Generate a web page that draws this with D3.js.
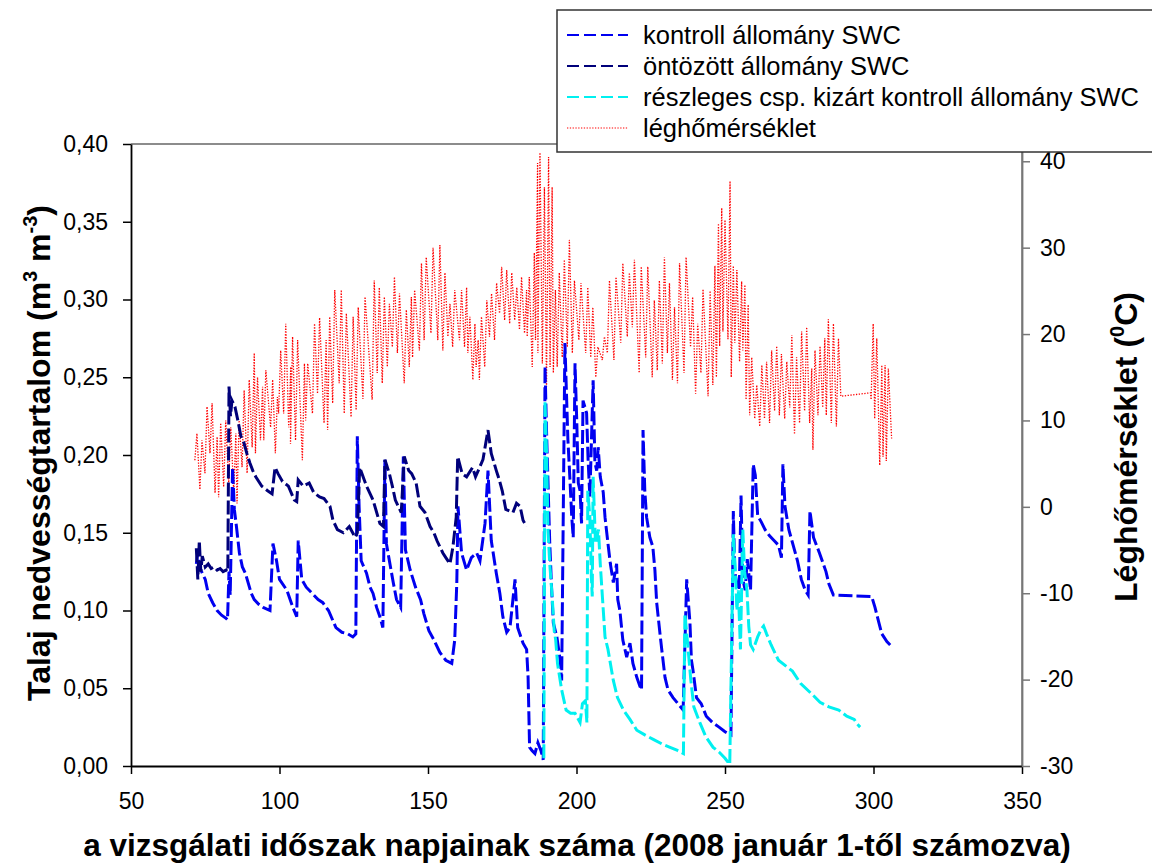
<!DOCTYPE html>
<html><head><meta charset="utf-8">
<script src="https://cdn.jsdelivr.net/npm/d3@7"></script>
<style>body{margin:0;background:#fff}svg{display:block}text{font-family:Arial,"Liberation Sans",sans-serif}</style>
</head><body><svg id="c" width="1152" height="863"></svg>
<script>
// ---- data ----
const xTicks=[50,100,150,200,250,300,350];
const swcTicks=[0,0.05,0.10,0.15,0.20,0.25,0.30,0.35,0.40];
const tempTicks=[-30,-20,-10,0,10,20,30,40];
const seriesNames=["kontroll állomány SWC","öntözött állomány SWC","részleges csp. kizárt kontroll állomány SWC","léghőmérséklet"];

const kontrollDays=[72,72.5,73,74,75,76,77.5,79,80.5,82,82.5,83,83.4,83.6,84.2,84.8,85.5,86.5,87.5,88.5,90.5,91.5,93,94.5,96.8,97.8,99,100,102.5,104.5,105.8,106.3,107.5,109,111,113,114.6,116.5,119,121,123,124.7,125.7,126.2,126.8,127.5,129.3,130.5,131.5,132.7,133.8,134.8,135.5,136,137,138.3,139.4,140.8,141.7,142.4,144,145.8,147.5,148.6,150.3,152,154,156,158,159,159.7,160.1,161.3,163,164.6,166.4,167.5,169.2,170.2,171.3,173,174.2,175.2,176.5,177.6,179.3,180.2,182,183.2,183.7,184.2,185,186,187,188,188.8,189.4,189.9,191,191.6,192.2,193.4,194.5,195,196.1,197.1,197.8,198.4,198.9,199.5,200.1,200.6,201.2,201.7,202.2,203.4,203.9,204.5,205.6,206.2,206.8,207.3,208,209,209.6,210.6,211.4,212.4,213.5,213.9,214.6,215.6,216.9,218,219,220.3,221.4,221.9,222.4,223,223.6,224.7,225.7,226.4,227,228,228.7,229.8,230.8,232.5,234.2,235.9,237.1,238.2,238.7,239.2,240.4,242,243.7,245.8,248,250,252,252.8,253.3,254,254.8,255.4,256,256.8,257.5,258.6,259.5,260.2,261,262.2,263.5,265,266.5,268,269,269.5,270.2,271.5,274.4,275.7,277,278,278.6,279.8,281.8,284,285,286.5,299.4,300.5,301.7,302.8,304.5,306];
const kontrollSWC=[0.130,0.137,0.128,0.124,0.120,0.111,0.105,0.100,0.097,0.095,0.094,0.125,0.110,0.130,0.192,0.165,0.154,0.137,0.128,0.124,0.111,0.107,0.104,0.102,0.100,0.143,0.132,0.120,0.113,0.102,0.096,0.145,0.120,0.115,0.111,0.107,0.105,0.100,0.089,0.086,0.085,0.083,0.085,0.212,0.167,0.132,0.124,0.115,0.111,0.102,0.096,0.089,0.197,0.143,0.132,0.118,0.107,0.102,0.199,0.139,0.126,0.115,0.107,0.098,0.087,0.081,0.073,0.068,0.066,0.081,0.118,0.167,0.137,0.126,0.134,0.137,0.132,0.156,0.190,0.145,0.124,0.111,0.096,0.086,0.089,0.120,0.089,0.079,0.075,0.057,0.012,0.010,0.008,0.015,0.010,0.004,0.257,0.216,0.143,0.115,0.092,0.083,0.068,0.055,0.272,0.210,0.184,0.160,0.147,0.259,0.221,0.182,0.177,0.156,0.235,0.227,0.197,0.173,0.248,0.195,0.190,0.205,0.186,0.176,0.160,0.143,0.130,0.118,0.130,0.107,0.100,0.081,0.070,0.079,0.066,0.057,0.051,0.049,0.216,0.177,0.160,0.147,0.141,0.126,0.105,0.087,0.075,0.057,0.049,0.044,0.040,0.036,0.120,0.092,0.068,0.062,0.044,0.040,0.032,0.028,0.025,0.022,0.020,0.164,0.125,0.117,0.113,0.174,0.120,0.113,0.133,0.113,0.194,0.187,0.161,0.157,0.152,0.148,0.145,0.142,0.134,0.194,0.167,0.152,0.132,0.120,0.113,0.110,0.164,0.147,0.137,0.125,0.117,0.110,0.109,0.102,0.093,0.085,0.080,0.077];

const ontozottDays=[72,72.5,73,73.5,74,75,76,77,78,79,80,81,82,82.6,83,83.5,84,85,86,87,88,89,90,91,92,94,96,97.5,98.5,99.5,101,103,105,105.8,106.3,108,110,111.5,113.5,115,117,118,119.5,121.5,123.5,125.5,126.2,127,129.3,131.5,133.8,135,135.5,137,138,139,140,141,142,143.5,144.5,146,147.3,149,150.7,152,153,154,155,156,157.4,158.4,159.5,160,161.5,163,165,166,168.5,170.2,171.3,173,174,175,176.2,178.6,179.8,181,182,183.2];
const ontozottSWC=[0.140,0.120,0.145,0.125,0.135,0.128,0.130,0.127,0.128,0.126,0.127,0.125,0.126,0.125,0.244,0.225,0.235,0.231,0.222,0.212,0.208,0.201,0.195,0.190,0.186,0.180,0.177,0.175,0.192,0.188,0.183,0.180,0.171,0.170,0.184,0.180,0.182,0.176,0.173,0.172,0.167,0.158,0.152,0.150,0.154,0.147,0.150,0.192,0.180,0.171,0.156,0.154,0.197,0.188,0.180,0.171,0.167,0.163,0.199,0.190,0.188,0.182,0.167,0.163,0.154,0.150,0.145,0.141,0.137,0.134,0.130,0.141,0.160,0.199,0.188,0.186,0.192,0.186,0.197,0.216,0.201,0.190,0.184,0.177,0.165,0.163,0.169,0.167,0.158,0.154];

const reszlegesDays=[189,189.4,189.9,190.4,191,191.8,192.5,193,193.6,195,196.5,198,199.5,201.2,202,203,203.5,203.8,204.5,205,205.3,205.6,206.4,207.4,208,209.6,210.6,212.4,213.8,215.8,218,220.3,223,226,229,231.5,234,236,236.5,237.5,238.5,239.5,241.5,243.5,246,248,250,251.6,252.8,253.5,254,254.5,255.2,256,256.6,257.4,258,258.6,259.5,261,262.2,263,264,265.5,268,272.7,275.5,279.4,282,285,288.3,291,293.5,294.5,295.5];
const reszlegesSWC=[0.005,0.235,0.203,0.152,0.130,0.109,0.087,0.081,0.066,0.049,0.036,0.034,0.034,0.028,0.040,0.042,0.028,0.177,0.160,0.122,0.109,0.186,0.143,0.152,0.130,0.083,0.075,0.055,0.044,0.036,0.030,0.023,0.020,0.017,0.014,0.012,0.010,0.008,0.098,0.077,0.055,0.038,0.028,0.019,0.012,0.009,0.005,0.001,0.149,0.125,0.100,0.113,0.075,0.152,0.125,0.113,0.090,0.078,0.075,0.083,0.088,0.090,0.085,0.078,0.068,0.061,0.053,0.046,0.041,0.038,0.036,0.032,0.030,0.027,0.025];

// air temperature: daily readings (day, daily max, daily min)
const tempDays=[72.2,73.9,75.6,77.3,79,80.2,81.9,83.6,85.3,86.4,88.1,89.8,91.5,92.6,94.3,95.4,97.7,99.3,100.4,102.1,103.8,104.4,106.1,108.4,109.5,111.8,113.5,115.7,116.9,118.6,120.8,122.5,124.8,126.5,128.8,131.9,133.6,135.3,137,138.7,140.4,142.7,144.4,145.5,147.8,149.4,151.7,154,155.7,157.4,159,161.3,163,164.1,165.8,166.9,168,169.8,171.4,173.1,174.8,176.5,178.2,179.9,181.5,183.2,184.1,185.8,186.9,187.7,189.2,190.6,191.8,192.9,194.2,195.9,197.6,199.3,201.5,203.8,205.5,207.2,209.4,211.1,213.3,215.6,217.8,219.5,221.8,224,226.2,227.9,229.6,231.3,233,234.7,236.9,239.1,240.8,242.6,245,246.6,247.8,248.9,250,251.7,252.8,254,255.6,256.7,257.8,259,260.7,262.4,264,265.7,267.4,269,270.8,272.5,274.1,275.8,277.5,279.2,280.3,282,283.6,284.8,286.5,288.2,289,294,299,299.9,301.1,302.8,303.9,305,306.1];
const tempMax=[8.5,7.7,11.6,12,8.1,9.7,10,9.2,8.5,10,13.5,14.7,17.8,15,13.9,15.8,14.7,12.7,18.1,21.2,16.2,19.7,19.3,16.6,16.6,21.2,21.9,19.3,22,25.1,25.1,22.4,22,23.1,24.3,26.2,25.4,24.3,23.5,26.6,24.7,22.8,24.3,25.1,28.2,28.9,30,30.3,27.1,23.5,25.1,25.1,25.4,22,21.2,19.3,22,23.9,24.7,25.9,27.8,27.4,27.1,25.4,26.6,25.1,26.6,29.4,39.8,41,37,40.5,37,25.1,27.1,28.6,30.9,26.2,25.9,25.4,23.1,18.5,19.7,26.2,26.6,28.2,27.1,28.6,27.8,27.8,23.9,26.2,28.9,25.9,23.1,28.2,28.9,24.3,21.2,25.2,25,27.9,32.8,34.6,33.2,37.7,27.9,27.4,26.1,25.7,23.4,17.3,14.1,16.4,16.8,18.1,18.6,17.7,16.8,19.9,17.3,20.3,20.8,16,18.1,18.6,19.5,21.7,21.2,19.5,12.8,13,13.2,21.2,19.5,16.4,16.4,16,7.9];
const tempMin=[5.4,2,3.9,6.2,1.6,1.1,2.3,2.8,1.6,0.4,4.6,3.9,6.9,6.2,7.7,7.7,9.2,6.2,10.8,10.8,9.2,7.3,7.7,5.4,10,10.8,13.1,9.7,8.9,12,14.3,10.8,10.4,11.2,12.5,12.4,15.5,14.3,16.2,18.5,17.8,14.3,16.2,17.3,18.1,19.3,20.1,19.3,18.1,19.7,18.5,19.3,18.5,17.8,14.7,16.2,14.7,16.2,19.7,19.3,22.4,21.6,21.2,21.6,20.5,20.1,19.7,16.2,19.3,17.8,16.6,13.9,16.2,15.5,16.2,17.3,18.5,17.8,19.3,17.8,17.3,15,17,17.8,17,19,19.7,20.8,15.5,17.3,15,15.8,16.6,17.8,14.7,14.3,15.5,18.5,13.1,15.5,12.8,14.1,15,18.6,20.3,19.4,15,19,16.8,18.1,12.4,10.6,10.2,9.3,10.2,9.7,11.1,10.6,10.2,11.5,8.4,9.7,11.1,9.7,6.6,10.6,11.5,10.6,9.7,9.3,12.8,13,13.2,12.4,10.2,4.8,5.8,5.3,7.9];

// ---- chart ----
const svg=d3.select("#c");
svg.append("rect").attr("width",1152).attr("height",863).attr("fill","#fff");
const x=d3.scaleLinear().domain([50,350]).range([131,1022]);
const yL=d3.scaleLinear().domain([0,0.40]).range([766,144]);
const yR=d3.scaleLinear().domain([-30,42]).range([766,144]);
const loc=d3.formatLocale({decimal:",",thousands:" ",grouping:[3],currency:["",""],minus:"-"});

// temperature table: min slightly before max within each daily reading
const tempPts=[];
tempDays.forEach((d,i)=>{ if(tempMin[i]!==tempMax[i]) tempPts.push([d-0.7,tempMin[i]]); tempPts.push([d,tempMax[i]]); });
const zip=(a,b)=>a.map((d,i)=>[d,b[i]]);

const lineL=d3.line().x(d=>x(d[0])).y(d=>yL(d[1]));
const lineR=d3.line().x(d=>x(d[0])).y(d=>yR(d[1]));

const g=svg.append("g");
g.append("path").datum(tempPts).attr("d",lineR).attr("fill","none").attr("stroke","#ff0000").attr("stroke-width",1.3).attr("stroke-dasharray","1.3,1.5");
g.append("path").datum(zip(kontrollDays,kontrollSWC)).attr("d",lineL).attr("fill","none").attr("stroke","#0000f0").attr("stroke-width",3).attr("stroke-dasharray","14,4");
g.append("path").datum(zip(ontozottDays,ontozottSWC)).attr("d",lineL).attr("fill","none").attr("stroke","#00007a").attr("stroke-width",3).attr("stroke-dasharray","14,4");
g.append("path").datum(zip(reszlegesDays,reszlegesSWC)).attr("d",lineL).attr("fill","none").attr("stroke","#00f0f0").attr("stroke-width",3).attr("stroke-dasharray","14,4");

// frame
svg.append("line").attr("x1",131).attr("x2",1022).attr("y1",144).attr("y2",144).attr("stroke","#666").attr("stroke-width",1.5);
svg.append("line").attr("x1",1022).attr("x2",1022).attr("y1",144).attr("y2",766).attr("stroke","#777").attr("stroke-width",1.5);

// axes
const fs="23px";
const ax=svg.append("g").attr("transform","translate(0,766)").call(d3.axisBottom(x).tickValues(xTicks).tickSize(8).tickPadding(19).tickSizeOuter(0));
const ayl=svg.append("g").attr("transform","translate(131,0)").call(d3.axisLeft(yL).tickValues(swcTicks).tickFormat(loc.format(".2f")).tickSize(8).tickPadding(15).tickSizeOuter(0));
const ayr=svg.append("g").attr("transform","translate(1022,0)").call(d3.axisRight(yR).tickValues(tempTicks).tickFormat(loc.format("d")).tickSize(8).tickPadding(10).tickSizeOuter(0));
[ax,ayl,ayr].forEach(a=>{a.selectAll("text").attr("font-size",fs).attr("fill","#000").attr("font-family","Arial, 'Liberation Sans', sans-serif");a.selectAll("line").attr("stroke","#000").attr("stroke-width",1.5);a.select(".domain").attr("stroke","#000").attr("stroke-width",1.8);});
ayr.select(".domain").attr("stroke","#777");ayr.selectAll("line").attr("stroke","#777");

// axis titles
svg.append("text").attr("x",577).attr("y",856).attr("text-anchor","middle").attr("font-size","31.5px").attr("font-weight","bold")
  .text("a vizsgálati időszak napjainak száma (2008 január 1-től számozva)");
const tl=svg.append("text").attr("transform","translate(50,453) rotate(-90)").attr("text-anchor","middle").attr("font-size","32px").attr("font-weight","bold");
tl.append("tspan").text("Talaj nedvességtartalom (m");
tl.append("tspan").attr("font-size","20px").attr("dy","-13").text("3");
tl.append("tspan").attr("dy","13").text(" m");
tl.append("tspan").attr("font-size","20px").attr("dy","-13").text("-3");
tl.append("tspan").attr("dy","13").text(")");
const tr=svg.append("text").attr("transform","translate(1137,447) rotate(-90)").attr("text-anchor","middle").attr("font-size","32px").attr("font-weight","bold");
tr.append("tspan").text("Léghőmérséklet (");
tr.append("tspan").attr("font-size","20px").attr("dy","-13").text("0");
tr.append("tspan").attr("dy","13").text("C)");

// legend
const lg=svg.append("g");
lg.append("rect").attr("x",557).attr("y",10).attr("width",620).attr("height",142).attr("fill","#fff").attr("stroke","#333").attr("stroke-width",1.5);
const legStyles=[{c:"#0000f0",d:"12,5",w:2},{c:"#00007a",d:"12,5",w:2},{c:"#00f0f0",d:"12,5",w:2},{c:"#ff0000",d:"1.3,1.5",w:1.2}];
const rowsY=[35,66,97,128];
seriesNames.forEach((n,i)=>{
  lg.append("line").attr("x1",567).attr("x2",628).attr("y1",rowsY[i]).attr("y2",rowsY[i]).attr("stroke",legStyles[i].c).attr("stroke-width",legStyles[i].w).attr("stroke-dasharray",legStyles[i].d);
  lg.append("text").attr("x",643).attr("y",rowsY[i]).attr("dy","0.35em").attr("font-size","25.5px").text(n);
});
</script></body></html>
